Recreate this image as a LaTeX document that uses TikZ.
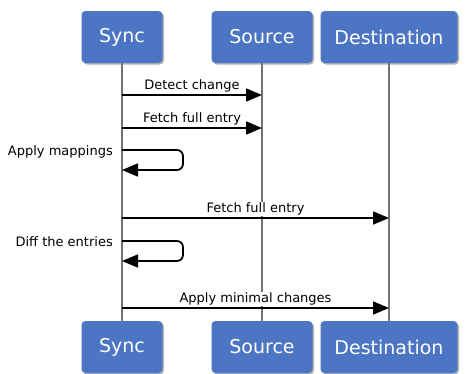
\documentclass[tikz,border=0pt]{standalone}
\usepackage{fontspec}
\setmainfont{DejaVu Sans}
\usetikzlibrary{shadows,arrows.meta}

\definecolor{actorblue}{RGB}{76,118,196}
\definecolor{lifegray}{RGB}{115,115,115}

\tikzset{
  actor/.style={
    rectangle,
    rounded corners=4pt,
    fill=actorblue,
    text=white,
    minimum height=52pt,
    inner sep=2pt,
    text centered,
    font=\fontsize{19}{19}\selectfont,
    drop shadow={shadow xshift=1.5pt, shadow yshift=-1.5pt, opacity=0.6}
  },
  lifeline/.style={draw=lifegray, line width=1.4pt},
  msg/.style={-{Triangle[length=16pt,width=13pt]}, line width=1.7pt},
  msglabel/.style={fill=white, inner sep=1pt, font=\fontsize{13}{13}\selectfont},
  selflabel/.style={inner sep=1pt, font=\fontsize{13}{13}\selectfont},
}

\begin{document}
\begin{tikzpicture}[x=1pt, y=-1pt]
  \useasboundingbox (0,0) rectangle (466,373);
  \node[actor, minimum width=81pt] (synctop) at (122,37) {Sync};
  \node[actor, minimum width=101pt] (sourcetop) at (262,37) {Source};
  \node[actor, minimum width=137pt] (desttop) at (389,37) {Destination};
  \node[actor, minimum width=81pt] (syncbot) at (122,347) {Sync};
  \node[actor, minimum width=101pt] (sourcebot) at (262,347) {Source};
  \node[actor, minimum width=137pt] (destbot) at (389,347) {Destination};
  % lifelines
  \draw[lifeline] (synctop) -- (syncbot);
  \draw[lifeline] (sourcetop) -- (sourcebot);
  \draw[lifeline] (desttop) -- (destbot);
  % messages
  \draw[msg] (synctop |- 0,95) -- (sourcetop |- 0,95)
    node[msglabel, midway, above=1pt] {Detect change};
  \draw[msg] (synctop |- 0,128) -- (sourcetop |- 0,128)
    node[msglabel, midway, above=1pt] {Fetch full entry};
  \draw[msg, rounded corners=6pt] (synctop |- 0,150) -- (183,150) -- (183,170) -- (synctop |- 0,170);
  \node[selflabel, anchor=east] (applylbl) at ([xshift=-8pt,yshift=-2pt]synctop |- 0,150) {Apply mappings};
  \draw[msg] (synctop |- 0,218) -- (desttop |- 0,218)
    node[msglabel, midway, above=1pt] {Fetch full entry};
  \draw[msg, rounded corners=6pt] (synctop |- 0,241) -- (183,241) -- (183,261) -- (synctop |- 0,261);
  \node[selflabel, anchor=east] (difflbl) at ([xshift=-8pt,yshift=-1pt]synctop |- 0,241) {Diff the entries};
  \draw[msg] (synctop |- 0,308) -- (desttop |- 0,308)
    node[msglabel, midway, above=1pt] {Apply minimal changes};
\end{tikzpicture}
\end{document}
